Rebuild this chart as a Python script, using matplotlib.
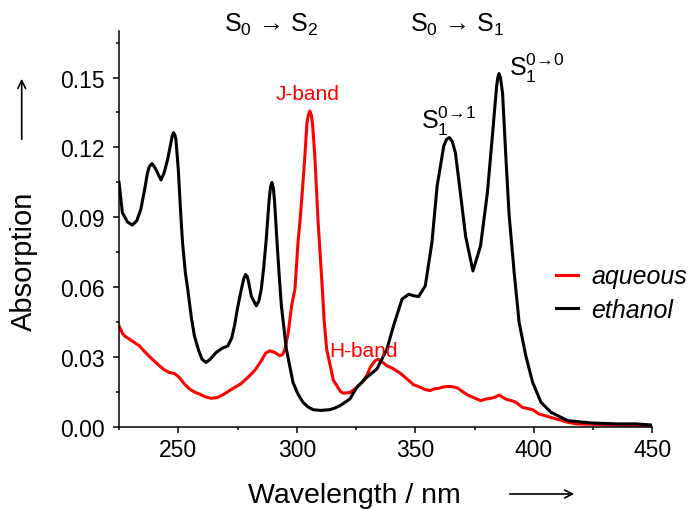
import matplotlib
matplotlib.use("Agg")
import matplotlib.pyplot as plt
from matplotlib.ticker import MultipleLocator, FormatStrFormatter

plt.rcParams['font.family'] = ['Liberation Sans', 'DejaVu Sans']
plt.rcParams['mathtext.fontset'] = 'custom'
plt.rcParams['mathtext.rm'] = 'Liberation Sans'
plt.rcParams['mathtext.it'] = 'Liberation Sans:italic'
plt.rcParams['mathtext.bf'] = 'Liberation Sans:bold'

# ethanol spectrum (wavelength nm, absorption)
eth_wl = [225, 226.4, 228.5, 230.6, 232.5, 234.2, 236, 237, 237.8, 238.9,
          240, 240.8, 242.7, 244, 245.5, 247, 247.5, 248, 248.6, 249,
          250, 251, 251.8, 253, 254, 255.5, 256.8, 258.5, 260, 261.7,
          263.5, 266, 268.5, 270.9, 272.5, 273.7, 275, 276.6, 277.6, 278.4,
          279.1, 279.7, 280.8, 282.9, 284, 285, 286, 287.1, 288.3, 288.9,
          289.5, 290.1, 290.6, 291.6, 292.5, 293.5, 295.6, 298.4, 300.5, 302.6,
          304.7, 306.9, 310, 313.9, 316, 318.2, 322.4, 325.3, 329.5, 333.8,
          338, 340.8, 344.4, 347.2, 349.5, 351.4, 354.2, 357, 359.2, 362,
          363.2, 364.4, 365.6, 366.9, 369, 371.2, 374.3, 377.5, 380.4, 382.5,
          384.3, 384.8, 385.3, 385.9, 386.8, 388.1, 389.5, 391.7, 393.8, 396.6,
          399.5, 403, 407.2, 414.3, 424.2, 435, 443, 450]
eth_abs = [0.105, 0.092, 0.088, 0.0866, 0.0885, 0.0934, 0.103, 0.109, 0.1118, 0.113,
           0.1115, 0.110, 0.106, 0.109, 0.1148, 0.1225, 0.1252, 0.1263, 0.1252, 0.1235,
           0.1105, 0.092, 0.079, 0.066, 0.059, 0.047, 0.039, 0.033, 0.029, 0.0276,
           0.029, 0.0319, 0.0337, 0.0347, 0.038, 0.0433, 0.051, 0.059, 0.0635, 0.0654,
           0.0645, 0.062, 0.0561, 0.0519, 0.054, 0.059, 0.068, 0.0804, 0.097, 0.103,
           0.1049, 0.1025, 0.097, 0.0804, 0.066, 0.0519, 0.0333, 0.019, 0.014, 0.0105,
           0.0085, 0.0073, 0.007, 0.0073, 0.008, 0.009, 0.0119, 0.0169, 0.0212, 0.0248,
           0.0333, 0.0433, 0.0548, 0.0569, 0.0562, 0.0559, 0.0605, 0.0791, 0.1034, 0.1206,
           0.1235, 0.1242, 0.1225, 0.1177, 0.1005, 0.0819, 0.0669, 0.0776, 0.1005, 0.1248,
           0.1463, 0.150, 0.1517, 0.150, 0.1434, 0.1177, 0.0919, 0.0662, 0.0447, 0.0305,
           0.019, 0.0105, 0.0062, 0.0026, 0.0016, 0.0012, 0.0012, 0.0007]

# aqueous spectrum
aq_wl = [225, 226.5, 227.6, 230, 233.5, 236, 239, 242, 244, 246.2,
         248.5, 250.4, 252.5, 254.7, 257, 259, 261.5, 263.8, 266.5, 269,
         271.6, 274, 276.5, 280.1, 282.5, 285, 286.8, 288.6, 290.7, 292.8,
         294, 295, 296.4, 297.8, 299.2, 300.6, 301.3, 302.4, 303.4, 304.3,
         304.9, 305.5, 306.1, 306.6, 307.6, 308.4, 309, 309.8, 310.9, 311.5,
         312.6, 314.1, 315.4, 316.9, 318.5, 319.7, 322.5, 325.3, 327.5, 329.5,
         331, 333, 334.3, 336, 338, 340.5, 343.6, 346.5, 349.3, 351.5,
         354, 356.4, 358, 359.9, 361.5, 363.4, 365.5, 367.7, 370, 372.3,
         374.5, 376, 377.5, 379.5, 381.8, 383.5, 385.3, 387, 388.8, 390.5,
         392.4, 395.2, 397.5, 399.5, 402.3, 404.5, 407.2, 410.5, 414.3, 418,
         425, 432, 440, 450]
aq_abs = [0.0433, 0.04, 0.0388, 0.0372, 0.0348, 0.032, 0.029, 0.0262, 0.0245, 0.0233,
          0.0228, 0.0212, 0.0185, 0.0162, 0.0148, 0.014, 0.0128, 0.0122, 0.0125, 0.0138,
          0.0155, 0.017, 0.0185, 0.0219, 0.0245, 0.0283, 0.0315, 0.0326, 0.0319, 0.0305,
          0.031, 0.0333, 0.0405, 0.0519, 0.059, 0.0804, 0.0877, 0.102, 0.1163, 0.1306,
          0.134, 0.1356, 0.134, 0.1306, 0.1163, 0.1, 0.0877, 0.075, 0.057, 0.046,
          0.0333, 0.0262, 0.02, 0.0176, 0.015, 0.0144, 0.0147, 0.0169, 0.019, 0.0219,
          0.0255, 0.0283, 0.029, 0.0278, 0.0262, 0.025, 0.023, 0.0205, 0.018, 0.0172,
          0.016, 0.0155, 0.0163, 0.0165, 0.017, 0.0173, 0.0172, 0.0167, 0.015, 0.0135,
          0.0125, 0.0119, 0.0112, 0.0118, 0.0122, 0.0126, 0.0136, 0.0125, 0.0116, 0.0112,
          0.0105, 0.0083, 0.0078, 0.0073, 0.0054, 0.0048, 0.004, 0.003, 0.0019, 0.0012,
          0.001, 0.0008, 0.0007, 0.0004]

fig = plt.figure(figsize=(6.94, 5.10), dpi=100)
ax = fig.add_axes([0.1715, 0.1614, 0.7685, 0.7759])

ax.plot(aq_wl, aq_abs, color='#ff0000', lw=2.2, solid_joinstyle='round', label='aqueous')
ax.plot(eth_wl, eth_abs, color='black', lw=2.2, solid_joinstyle='round', label='ethanol')

ax.set_xlim(225, 450)
ax.set_ylim(0, 0.17)
ax.xaxis.set_major_locator(MultipleLocator(50))
ax.xaxis.set_minor_locator(MultipleLocator(25))
ax.yaxis.set_major_locator(MultipleLocator(0.03))
ax.yaxis.set_minor_locator(MultipleLocator(0.015))
ax.yaxis.set_major_formatter(FormatStrFormatter('%.2f'))

for side in ['top', 'right']:
    ax.spines[side].set_visible(False)
for side in ['left', 'bottom']:
    ax.spines[side].set_linewidth(1.1)
ax.tick_params(which='major', direction='out', length=4.5, width=1.1, labelsize=16.5)
ax.tick_params(axis='x', which='major', pad=4)
ax.tick_params(axis='y', which='major', pad=6)
ax.tick_params(which='minor', direction='out', length=2.5, width=1.1)

# axis labels with arrows
fig.text(354 / 694, 1 - 503 / 510, 'Wavelength / nm', fontsize=20.5,
         ha='center', va='baseline')
fig.text(24 / 694, 1 - 261 / 510, 'Absorption', fontsize=21, rotation=90,
         ha='center', va='center')
ax.annotate('', xy=(577, 15), xytext=(507, 15), xycoords='figure pixels',
            textcoords='figure pixels',
            arrowprops=dict(arrowstyle='->', lw=1.2, color='black', mutation_scale=14))
ax.annotate('', xy=(21.7, 433), xytext=(21.7, 367), xycoords='figure pixels',
            textcoords='figure pixels',
            arrowprops=dict(arrowstyle='->', lw=1.2, color='black', mutation_scale=14))

# transition labels
ax.text(289, 0.170, r'S$_0$ → S$_2$', fontsize=18, ha='center', va='baseline', clip_on=False)
ax.text(367.4, 0.170, r'S$_0$ → S$_1$', fontsize=18, ha='center', va='baseline', clip_on=False)
ax.text(389.4, 0.1509, r'S$_1^{0\mathrm{→}0}$', fontsize=18, ha='left', va='baseline')
ax.text(352.5, 0.1284, r'S$_1^{0\mathrm{→}1}$', fontsize=18, ha='left', va='baseline')
ax.text(304.7, 0.1406, 'J-band', fontsize=15, color='#ff0000', ha='center', va='baseline')
ax.text(328, 0.0305, 'H-band', fontsize=15, color='#ff0000', ha='center', va='baseline')

leg = ax.legend(loc='upper left', bbox_to_anchor=(0.82, 0.41), frameon=False,
                borderpad=0, borderaxespad=0, handlelength=0.85,
                handletextpad=0.54, labelspacing=0.37,
                prop={'size': 18, 'style': 'italic'})

fig.savefig('out.png', dpi=100)
